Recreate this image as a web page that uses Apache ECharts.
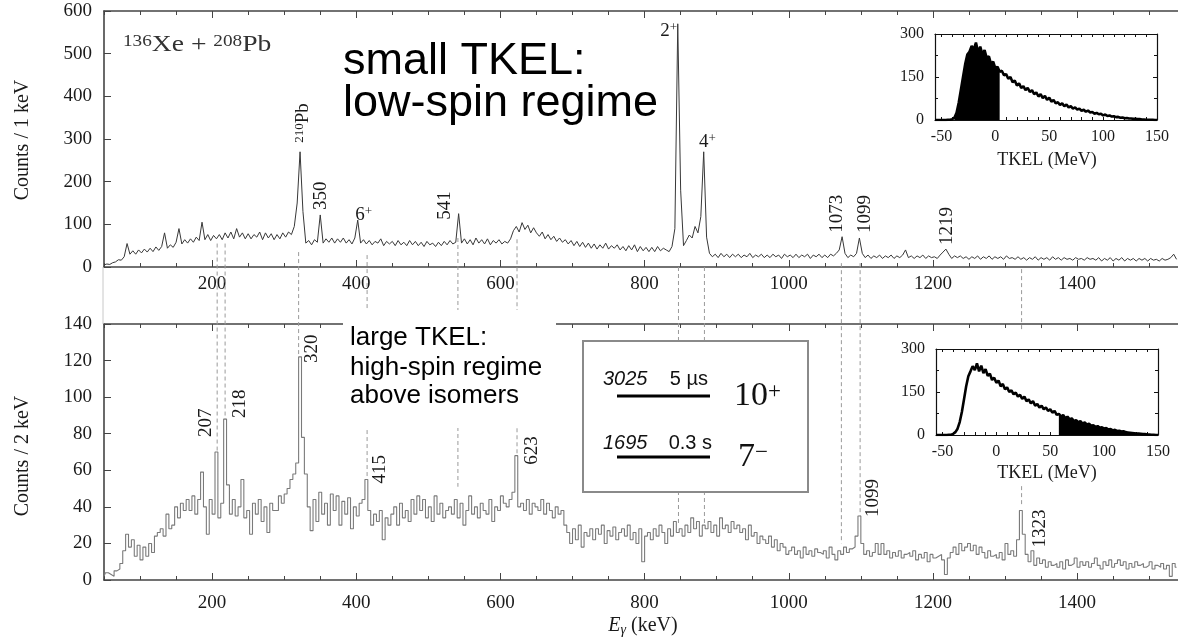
<!DOCTYPE html>
<html><head><meta charset="utf-8">
<script src="https://cdn.jsdelivr.net/npm/echarts@6/dist/echarts.min.js"></script>
<style>html,body{margin:0;padding:0;background:#fff}#c{width:1178px;height:643px}</style>
</head><body><div id="c"></div>
<script>
// ---------------- DATA ----------------
const E_START = 50, E_STEP = 4;           // keV of first sample, sample spacing
const E_MIN = 50, E_MAX = 1540;           // gamma-energy axis range
// upper spectrum: small TKEL, counts / 1 keV (sampled every 4 keV from 50 keV)
const topCounts = [
  5,7,6,10,12,17,16,24,55,30,
  38,30,40,33,42,35,44,36,47,39,
  48,80,44,52,46,58,90,54,64,56,
  66,58,70,62,105,64,76,62,74,66,
  76,64,80,68,82,66,90,70,80,66,
  78,66,76,70,82,64,80,68,78,64,
  76,66,80,70,82,76,95,150,270,130,
  56,62,52,64,58,122,56,66,58,68,
  56,66,58,68,56,64,54,68,110,56,
  64,54,62,52,60,56,66,50,60,54,
  60,50,62,52,58,50,62,52,60,50,
  58,48,60,52,56,48,58,50,60,52,
  62,54,58,125,56,66,54,64,52,68,
  56,64,54,66,52,62,56,64,54,60,
  56,66,85,95,82,104,88,98,80,92,
  80,72,82,66,76,64,72,60,68,58,
  64,54,62,50,60,48,58,46,56,44,
  54,42,52,44,56,42,50,44,52,40,
  48,38,50,40,52,36,48,38,46,36,
  46,36,48,38,44,40,36,48,90,570,
  180,50,62,75,68,95,80,118,270,70,
  32,24,30,22,32,24,30,22,30,24,
  30,22,28,24,32,22,28,24,30,22,
  28,22,30,24,28,20,30,24,28,22,
  30,22,28,24,30,20,28,24,30,22,
  28,22,30,26,32,40,71,32,22,28,
  24,32,68,32,22,28,20,26,22,28,
  20,26,22,28,20,26,22,28,40,22,
  26,20,26,22,28,20,26,22,24,20,
  28,35,42,30,20,26,22,26,20,24,
  18,24,20,26,18,24,20,26,18,24,
  20,24,18,26,20,22,18,24,18,22,
  16,22,18,24,16,22,18,22,16,24,
  18,22,16,22,18,20,16,22,18,20,
  16,22,18,20,16,22,14,20,16,22,
  14,20,16,22,14,20,16,20,14,20,
  16,20,14,20,16,18,14,20,16,18,
  22,30,18
];
// lower spectrum: large TKEL, counts / 2 keV (sampled every 4 keV from 50 keV)
const bottomCounts = [
  2,4,3,2,5,6,9,16,25,18,
  22,13,19,11,18,13,20,15,24,26,
  28,24,36,28,30,40,34,42,38,44,
  38,46,36,44,59,40,25,44,36,70,
  34,42,88,52,36,44,35,40,55,34,
  38,25,42,36,44,32,40,26,42,38,
  38,46,42,47,50,55,58,64,122,78,
  58,40,27,44,32,48,36,42,30,47,
  38,46,30,43,36,45,28,40,35,42,
  44,55,38,30,36,32,38,22,34,30,
  36,40,30,42,34,38,32,44,36,46,
  38,44,34,40,32,46,36,42,34,38,
  40,36,44,34,42,30,38,46,36,40,
  34,42,38,36,44,32,40,38,46,42,
  40,44,48,68,40,42,38,44,36,42,
  40,38,44,36,42,38,34,40,36,38,
  30,26,20,28,22,30,18,26,24,28,
  22,28,25,30,20,27,24,29,22,26,
  28,24,30,22,26,20,28,10,24,26,
  22,28,24,30,26,20,28,24,32,26,
  28,24,30,26,34,28,32,24,30,28,
  32,26,30,24,34,28,30,26,32,28,
  30,26,28,22,30,24,26,20,24,22,
  20,24,18,22,16,20,18,14,16,18,
  14,16,12,18,14,16,13,17,15,14,
  16,12,18,14,11,16,14,18,15,17,
  18,24,35,20,14,16,13,15,20,14,
  20,14,16,12,15,13,16,12,14,15,
  13,16,11,14,12,15,10,14,12,13,
  14,11,3,12,15,18,14,20,16,18,
  20,16,19,14,18,15,12,16,13,14,
  12,15,11,20,14,16,13,22,38,25,
  14,10,16,8,12,9,11,7,10,8,
  9,7,10,6,11,8,9,12,7,10,
  8,10,7,9,12,8,6,10,8,11,
  7,9,11,8,10,6,9,7,10,8,
  9,7,8,10,6,8,7,9,6,8,
  2,9,7
];
// TKEL insets (MeV), sampled every 2 MeV from -56 MeV
const TK_START = -56, TK_STEP = 2, TK_MIN = -56, TK_MAX = 150;
const insetTopCounts = [
  0,0,0,0,0,0,1,1,
  3,8,25,60,105,150,195,228,238,258,
  246,270,236,256,228,244,216,222,196,204,
  180,186,168,172,156,160,144,150,132,138,
  120,128,112,118,104,112,98,104,90,96,
  82,90,76,84,70,78,64,70,58,62,
  52,58,48,54,44,48,40,44,36,40,
  32,36,29,33,26,28,22,25,20,22,
  16,19,14,16,12,13,10,11,8,9,
  6,7,5,5,4,4,3,3,2,2,
  1,1,1,1,0,0
];
const insetBottomCounts = [
  0,0,0,0,0,0,1,1,
  4,10,22,45,80,125,170,205,222,240,
  226,250,222,242,216,230,206,214,192,200,
  182,190,170,178,160,166,150,156,142,148,
  134,140,126,134,118,124,110,118,102,108,
  96,102,90,96,84,90,78,84,70,74,
  64,70,58,64,54,58,48,52,44,48,
  40,44,36,40,32,34,28,31,25,27,
  22,24,19,21,16,18,14,15,12,13,
  10,9,8,7,6,5,5,4,3,3,
  2,2,1,1,0,0
];
const insetTopGate = [-38, 4];       // gated TKEL window, upper panel
const insetBottomGate = [58, 150];   // gated TKEL window, lower panel

// tick labels
const mainXTicks = [200, 400, 600, 800, 1000, 1200, 1400];
const topYMax = 600, topYStep = 100;
const bottomYMax = 140, bottomYStep = 20;
const insetXTicks = [-50, 0, 50, 100, 150];
const insetYMax = 300, insetYStep = 150;

// peak labels (energy keV, approx. peak top counts, text)
const topPeakE = [324, 350, 404, 541, 847, 883, 1073, 1099, 1219];
const topPeakC = [270, 122, 110, 125, 570, 270, 71, 68, 42];
const topPeakText = ['{s|210}{n|Pb}', '{n|350}', '{n|6}{s|+}', '{n|541}', '{n|2}{s|+}', '{n|4}{s|+}', '{n|1073}', '{n|1099}', '{n|1219}'];
const botPeakE = [207, 218, 320, 415, 623, 1099, 1323];
const botPeakC = [70, 88, 122, 55, 68, 35, 38];
const botPeakText = ['207', '218', '320', '415', '623', '1099', '1323'];

// dashed guide lines: energy, upper-panel start (counts), lower-panel end (counts)
const dashE    = [207, 218, 320, 415, 541, 623, 847, 883, 1073, 1099, 1323];
const dashTopC = [55, 55, 35, 28, 68, 65, 0, 0, 9, 9, -5];
const dashBotC = [70, 88, 122, 55, 51, 68, 31, 30, 20, 35, 40];

// ---------------- LAYOUT / STYLE ----------------
const serif = "'Liberation Serif','DejaVu Serif',serif";
const sans = "'Liberation Sans',Arial,sans-serif";
const AX = '#444';
const INK = '#1a1a1a';
// label placement (pixel offsets from peak top) : [dx, dy, rotated, align]
const topPeakLayout = [[1.5,-9,1,'left'],[1,-5,1,'left'],[-4,-5,0,'left'],[-12.4,6,1,'left'],[-1.5,7,0,'right'],[3,-10,0,'center'],[-4,-4,1,'left'],[4.4,-5,1,'left'],[0,-4,1,'left']];
const botPeakLayout = [[-10.7,-15],[15,-1],[13,6],[13,4],[14.5,9],[12.4,1],[18,37]];

const minorXTicks = []; for (let v = 50; v <= 1500; v += 50) minorXTicks.push(v);
const insetMinorTicks = []; for (let v = -50; v <= 150; v += 10) insetMinorTicks.push(v);

const toXY = (arr, start, step) => arr.map((c, i) => [start + i * step, c]);
const topData = toXY(topCounts, E_START, E_STEP);
const botData = toXY(bottomCounts, E_START, E_STEP);
const insTop = toXY(insetTopCounts, TK_START, TK_STEP);
const insBot = toXY(insetBottomCounts, TK_START, TK_STEP);
const gate = (d, g) => d.filter(p => p[0] >= g[0] && p[0] <= g[1]);
const plain = v => String(v);

function mainX(gi, labelMargin) {
  const base = {gridIndex: gi, type: 'value', min: E_MIN, max: E_MAX, splitLine: {show: false}, axisPointer: {show: false}};
  return [
    Object.assign({}, base, {position: 'bottom',
      axisLine: {show: true, onZero: false, lineStyle: {color: AX, width: 1.6}},
      axisTick: {show: true, inside: true, length: 7, customValues: mainXTicks, lineStyle: {color: AX, width: 1}},
      axisLabel: {show: true, customValues: mainXTicks, formatter: plain, margin: labelMargin, fontSize: 19, fontFamily: serif, color: INK}}),
    Object.assign({}, base, {position: 'bottom', axisLine: {show: false},
      axisTick: {show: true, inside: true, length: 4, customValues: minorXTicks, lineStyle: {color: AX, width: 1}},
      axisLabel: {show: false}}),
    Object.assign({}, base, {position: 'top',
      axisLine: {show: true, onZero: false, lineStyle: {color: AX, width: 1.6}},
      axisTick: {show: true, inside: true, length: 4, customValues: minorXTicks, lineStyle: {color: AX, width: 1}},
      axisLabel: {show: false}}),
    Object.assign({}, base, {position: 'top', axisLine: {show: false},
      axisTick: {show: true, inside: true, length: 7, customValues: mainXTicks, lineStyle: {color: AX, width: 1}},
      axisLabel: {show: false}})
  ];
}
function mainY(gi, max, step) {
  return {gridIndex: gi, type: 'value', min: 0, max: max, interval: step, position: 'left',
    axisLine: {show: true, onZero: false, lineStyle: {color: AX, width: 1.6}},
    axisTick: {show: true, inside: true, length: 7, lineStyle: {color: AX, width: 1}},
    axisLabel: {margin: 12, fontSize: 19, fontFamily: serif, color: INK, formatter: plain},
    splitLine: {show: false}};
}
function insetX(gi) {
  const base = {gridIndex: gi, type: 'value', min: TK_MIN, max: TK_MAX, z: 10, splitLine: {show: false}};
  return [
    Object.assign({}, base, {position: 'bottom',
      axisLine: {show: true, onZero: false, lineStyle: {color: '#111', width: 1.2}},
      axisTick: {show: true, inside: true, length: 3, customValues: insetMinorTicks, lineStyle: {color: '#111'}},
      axisLabel: {show: true, customValues: insetXTicks, formatter: plain, margin: 9, fontSize: 16, fontFamily: serif, color: INK}}),
    Object.assign({}, base, {position: 'top',
      axisLine: {show: true, onZero: false, lineStyle: {color: '#111', width: 1.2}},
      axisTick: {show: true, inside: true, length: 3, customValues: insetMinorTicks, lineStyle: {color: '#111'}},
      axisLabel: {show: false}})
  ];
}
function insetY(gi) {
  const base = {gridIndex: gi, type: 'value', min: 0, max: insetYMax, interval: insetYStep, z: 10, splitLine: {show: false}};
  return [
    Object.assign({}, base, {position: 'left',
      axisLine: {show: true, onZero: false, lineStyle: {color: '#111', width: 1.2}},
      axisTick: {show: true, inside: true, length: 4, lineStyle: {color: '#111'}},
      minorTick: {show: true, splitNumber: 2, length: 3, lineStyle: {color: '#111'}},
      axisLabel: {margin: 11, fontSize: 16, fontFamily: serif, color: INK}}),
    Object.assign({}, base, {position: 'right',
      axisLine: {show: true, onZero: false, lineStyle: {color: '#111', width: 1.2}},
      axisTick: {show: true, inside: true, length: 4, lineStyle: {color: '#111'}},
      minorTick: {show: true, splitNumber: 2, length: 3, lineStyle: {color: '#111'}},
      axisLabel: {show: false}})
  ];
}

const option = {
  animation: false,
  backgroundColor: '#fff',
  textStyle: {fontFamily: serif},
  grid: [
    {left: 104, top: 11, width: 1074, height: 256, outerBoundsMode: 'none'},
    {left: 104, top: 324, width: 1074, height: 256, outerBoundsMode: 'none'},
    {left: 935, top: 34, width: 222, height: 86, outerBoundsMode: 'none'},
    {left: 936, top: 349, width: 222, height: 86, outerBoundsMode: 'none'}
  ],
  xAxis: [].concat(mainX(0, 8), mainX(1, 14), insetX(2), insetX(3)),
  yAxis: [mainY(0, topYMax, topYStep), mainY(1, bottomYMax, bottomYStep)].concat(insetY(2), insetY(3)),
  series: [
    {type: 'line', xAxisIndex: 0, yAxisIndex: 0, data: topData, symbol: 'none', silent: true,
      lineStyle: {color: '#383838', width: 1}, z: 2},
    {type: 'line', xAxisIndex: 4, yAxisIndex: 1, data: botData, step: 'middle', symbol: 'none', silent: true,
      lineStyle: {color: '#7a7a7a', width: 1.1}, z: 2},
    {type: 'line', xAxisIndex: 8, yAxisIndex: 2, data: gate(insTop, insetTopGate), symbol: 'none', silent: true,
      lineStyle: {width: 0}, areaStyle: {color: '#000', opacity: 1}, z: 12},
    {type: 'line', xAxisIndex: 8, yAxisIndex: 2, data: insTop, symbol: 'none', silent: true,
      lineStyle: {color: '#000', width: 2.6}, z: 13},
    {type: 'line', xAxisIndex: 10, yAxisIndex: 4, data: gate(insBot, insetBottomGate), symbol: 'none', silent: true,
      lineStyle: {width: 0}, areaStyle: {color: '#000', opacity: 1}, z: 12},
    {type: 'line', xAxisIndex: 10, yAxisIndex: 4, data: insBot, symbol: 'none', silent: true,
      lineStyle: {color: '#000', width: 2.6}, z: 13}
  ]
};

const chart = echarts.init(document.getElementById('c'), null, {renderer: 'canvas'});
chart.setOption(option);

// ---------------- ANNOTATIONS ----------------
const G = [];
function txt(x, y, text, opt) {
  const o = Object.assign({fontSize: 19, fontFamily: serif, align: 'left', vAlign: 'middle', rot: 0, z: 20, fill: INK, sx: 1}, opt || {});
  const el = {type: 'text', x: x, y: y, rotation: o.rot, scaleX: o.sx, z: o.z, silent: true,
    style: {text: text, fill: o.fill, fontSize: o.fontSize, fontFamily: o.fontFamily, fontStyle: o.fontStyle || 'normal',
      align: o.align, verticalAlign: o.vAlign, textAlign: o.align, textVerticalAlign: o.vAlign}};
  if (o.rich) el.style.rich = o.rich;
  G.push(el);
}
const peakRich = {
  n: {fontSize: 19, fontFamily: serif, fill: INK, lineHeight: 20},
  s: {fontSize: 13, fontFamily: serif, fill: INK, lineHeight: 13, verticalAlign: 'top'}
};

// dashed guide lines through both panels
dashE.forEach((e, i) => {
  const p1 = chart.convertToPixel({seriesIndex: 0}, [e, dashTopC[i]]);
  const p2 = chart.convertToPixel({seriesIndex: 1}, [e, dashBotC[i]]);
  G.push({type: 'line', z: 3, silent: true, shape: {x1: p1[0], y1: p1[1], x2: p2[0], y2: p2[1]},
    style: {stroke: '#9a9a9a', lineWidth: 1, lineDash: [4, 3]}});
});
// faint left edge line between panels
G.push({type: 'line', z: 1, silent: true, shape: {x1: 103, y1: 267, x2: 103, y2: 324}, style: {stroke: '#c8c8c8', lineWidth: 1}});

// peak labels
topPeakE.forEach((e, i) => {
  const p = chart.convertToPixel({seriesIndex: 0}, [e, topPeakC[i]]);
  const L = topPeakLayout[i];
  txt(p[0] + L[0], p[1] + L[1], topPeakText[i], {rot: L[2] ? Math.PI / 2 : 0, align: L[3], rich: peakRich});
});
botPeakE.forEach((e, i) => {
  const p = chart.convertToPixel({seriesIndex: 1}, [e, botPeakC[i]]);
  const L = botPeakLayout[i];
  txt(p[0] + L[0], p[1] + L[1], botPeakText[i], {rot: Math.PI / 2, align: 'left'});
});

// white backgrounds
G.push({type: 'rect', z: 5, silent: true, shape: {x: 900, y: 332, width: 278, height: 152}, style: {fill: '#fff'}});
G.push({type: 'rect', z: 8, silent: true, shape: {x: 343, y: 310, width: 213, height: 118}, style: {fill: '#fff'}});
G.push({type: 'rect', z: 8, silent: true, shape: {x: 583, y: 341, width: 225, height: 151}, style: {fill: '#fff', stroke: '#8a8a8a', lineWidth: 2}});

// panel texts
txt(123, 45, '{s|136}{n|Xe + }{s|208}{n|Pb}', {sx: 1.2, rich: {
  n: {fontSize: 23, fontFamily: serif, fill: '#333', lineHeight: 23},
  s: {fontSize: 16, fontFamily: serif, fill: '#333', lineHeight: 14, verticalAlign: 'top'}}});
txt(343, 62, 'small TKEL:', {fontSize: 45, fontFamily: sans, fill: '#000'});
txt(343, 104, 'low-spin regime', {fontSize: 45, fontFamily: sans, fill: '#000'});
txt(350, 338, 'large TKEL:', {fontSize: 26, fontFamily: sans, fill: '#000', z: 9});
txt(350, 368, 'high-spin regime', {fontSize: 26, fontFamily: sans, fill: '#000', z: 9});
txt(350, 396, 'above isomers', {fontSize: 26, fontFamily: sans, fill: '#000', z: 9});

// isomer level box
txt(603, 379, '3025', {fontSize: 20, fontFamily: sans, fontStyle: 'italic', fill: '#111', z: 9});
txt(708, 379, '5 µs', {fontSize: 20, fontFamily: sans, fill: '#111', align: 'right', z: 9});
G.push({type: 'line', z: 9, silent: true, shape: {x1: 617, y1: 396, x2: 710, y2: 396}, style: {stroke: '#000', lineWidth: 3}});
txt(734, 396, '{n|10}{s|+}', {z: 9, rich: {n: {fontSize: 34, fontFamily: serif, fill: '#111', lineHeight: 32},
  s: {fontSize: 23, fontFamily: serif, fill: '#111', lineHeight: 22, verticalAlign: 'top'}}});
txt(603, 443, '1695', {fontSize: 20, fontFamily: sans, fontStyle: 'italic', fill: '#111', z: 9});
txt(712, 443, '0.3 s', {fontSize: 20, fontFamily: sans, fill: '#111', align: 'right', z: 9});
G.push({type: 'line', z: 9, silent: true, shape: {x1: 617, y1: 457, x2: 710, y2: 457}, style: {stroke: '#000', lineWidth: 3}});
txt(738, 457, '{n|7}{s|\u2212}', {z: 9, rich: {n: {fontSize: 34, fontFamily: serif, fill: '#111', lineHeight: 32},
  s: {fontSize: 23, fontFamily: serif, fill: '#111', lineHeight: 22, verticalAlign: 'top'}}});

// axis names
txt(23, 140, 'Counts / 1 keV', {fontSize: 20, rot: Math.PI / 2, align: 'center'});
txt(23, 456, 'Counts / 2 keV', {fontSize: 20, rot: Math.PI / 2, align: 'center'});
txt(643, 626, '{i|E}{g|γ}{n| (keV)}', {align: 'center', rich: {
  i: {fontSize: 20, fontFamily: serif, fontStyle: 'italic', fill: INK, lineHeight: 22},
  g: {fontSize: 14, fontFamily: serif, fontStyle: 'italic', fill: INK, lineHeight: 22, verticalAlign: 'bottom'},
  n: {fontSize: 20, fontFamily: serif, fill: INK, lineHeight: 22}}});
txt(1047, 160, 'TKEL (MeV)', {fontSize: 18, align: 'center', z: 14});
txt(1047, 473, 'TKEL (MeV)', {fontSize: 18, align: 'center', z: 14});

chart.setOption({graphic: {elements: G}});
</script>
</body></html>
